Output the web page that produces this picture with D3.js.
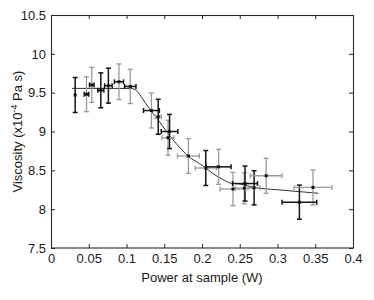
<!DOCTYPE html>
<html><head><meta charset="utf-8">
<script src="https://cdn.jsdelivr.net/npm/d3@7"></script>
<style>
body{margin:0;background:#fff}
svg{display:block}
text{font-family:"Liberation Sans",Arial,Helvetica,sans-serif}
</style>
</head><body>
<svg id="chart" width="374" height="300"></svg>
<script>
// ---- data ----
const powerW    = [0.032, 0.047, 0.054, 0.066, 0.076, 0.090, 0.105, 0.133, 0.142, 0.157, 0.155, 0.182, 0.205, 0.222, 0.241, 0.257, 0.256, 0.269, 0.285, 0.329, 0.347];
const viscosity = [9.47, 9.48, 9.60, 9.53, 9.59, 9.64, 9.58, 9.27, 9.19, 9.00, 8.92, 8.685, 8.53, 8.545, 8.26, 8.33, 8.27, 8.275, 8.43, 8.09, 8.28];
const powerErr  = [0, 0.003, 0.003, 0.004, 0.005, 0.006, 0.0075, 0.0105, 0.004, 0.011, 0.008, 0.0145, 0.014, 0.0165, 0.017, 0.0165, 0.012, 0.008, 0.021, 0.023, 0.025];
const viscErr   = [0.225, 0.225, 0.225, 0.225, 0.225, 0.23, 0.22, 0.225, 0.225, 0.22, 0.225, 0.225, 0.225, 0.225, 0.215, 0.225, 0.2, 0.22, 0.225, 0.22, 0.225];
const vBarTone  = ["d","g","g","d","d","g","g","g","d","d","g","g","d","g","g","d","g","d","g","d","g"];
const hBarTone  = ["d","d","d","d","d","d","d","d","g","d","g","g","g","d","g","d","g","g","g","d","g"];

const fitPower = [0.028, 0.105, 0.110, 0.115, 0.120, 0.127, 0.133, 0.142, 0.155, 0.170, 0.182, 0.197, 0.205, 0.215, 0.228, 0.238, 0.250, 0.270, 0.300, 0.330, 0.354];
const fitVisc  = [9.555, 9.555, 9.545, 9.51, 9.44, 9.34, 9.26, 9.15, 8.97, 8.80, 8.68, 8.585, 8.53, 8.455, 8.38, 8.335, 8.325, 8.278, 8.25, 8.225, 8.205];

const xTicks = [0, 0.05, 0.1, 0.15, 0.2, 0.25, 0.3, 0.35, 0.4];
const xTickLabels = ["0", "0.05", "0.1", "0.15", "0.2", "0.25", "0.3", "0.35", "0.4"];
const yTicks = [7.5, 8, 8.5, 9, 9.5, 10, 10.5];
const yTickLabels = ["7.5", "8", "8.5", "9", "9.5", "10", "10.5"];

// ---- layout ----
const margin = {left: 51, top: 15, right: 21, bottom: 52};
const W = 374, H = 300;
const iw = W - margin.left - margin.right;
const ih = H - margin.top - margin.bottom;

const svg = d3.select("#chart");
const g = svg.append("g").attr("transform", `translate(${margin.left},${margin.top})`);

const x = d3.scaleLinear().domain([0, 0.4]).range([0, iw]);
const y = d3.scaleLinear().domain([7.5, 10.5]).range([ih, 0]);

const axisColor = "#2a2a2a";
const fs = 13;

// axes with inward ticks
const xb = g.append("g").attr("transform", `translate(0,${ih})`)
  .call(d3.axisBottom(x).tickValues(xTicks).tickFormat((d,i)=>xTickLabels[i]).tickSize(-4).tickSizeOuter(0).tickPadding(6));
const xt = g.append("g")
  .call(d3.axisTop(x).tickValues(xTicks).tickFormat("").tickSize(-4).tickSizeOuter(0));
const yl = g.append("g")
  .call(d3.axisLeft(y).tickValues(yTicks).tickFormat((d,i)=>yTickLabels[i]).tickSize(-4).tickSizeOuter(0).tickPadding(5));
const yr = g.append("g").attr("transform", `translate(${iw},0)`)
  .call(d3.axisRight(y).tickValues(yTicks).tickFormat("").tickSize(-4).tickSizeOuter(0));

[xb, xt, yl, yr].forEach(a => {
  a.select(".domain").remove();
  a.selectAll(".tick line").attr("stroke", axisColor);
  a.selectAll(".tick text").attr("fill", "#1a1a1a").style("font-size", fs + "px").style("font-family", '"Liberation Sans",Arial,sans-serif');
});

g.append("rect").attr("x", 0.5).attr("y", 0.5).attr("width", iw).attr("height", ih - 0.5)
  .attr("fill", "none").attr("stroke", axisColor).attr("stroke-width", 1.1);

// fit curve
const fit = fitPower.map((p, i) => [p, fitVisc[i]]);
g.append("path").datum(fit)
  .attr("fill", "none").attr("stroke", "#333").attr("stroke-width", 1)
  .attr("d", d3.line().x(d => x(d[0])).y(d => y(d[1])).curve(d3.curveMonotoneX));

// error bars
const pts = powerW.map((p, i) => ({p, v: viscosity[i], pe: powerErr[i], ve: viscErr[i], vt: vBarTone[i], ht: hBarTone[i]}));
const tone = t => t === "d" ? "#151515" : "#9a9a9a";
const tw = t => t === "d" ? 1.5 : 1.3;
const cap = 2.5;

const eb = g.append("g");
const order = pts.slice().sort((a, b) => (a.vt === "d") - (b.vt === "d"));
order.forEach(d => {
  const cx = x(d.p);
  const y0 = y(d.v + d.ve), y1 = y(d.v - d.ve);
  const c = tone(d.vt), w = tw(d.vt);
  eb.append("line").attr("x1", cx).attr("x2", cx).attr("y1", y0).attr("y2", y1).attr("stroke", c).attr("stroke-width", w);
  eb.append("line").attr("x1", cx - cap).attr("x2", cx + cap).attr("y1", y0).attr("y2", y0).attr("stroke", c).attr("stroke-width", w);
  eb.append("line").attr("x1", cx - cap).attr("x2", cx + cap).attr("y1", y1).attr("y2", y1).attr("stroke", c).attr("stroke-width", w);
});
pts.forEach(d => {
  if (d.pe <= 0) return;
  const cy = y(d.v);
  const x0 = x(d.p - d.pe), x1 = x(d.p + d.pe);
  const c = tone(d.ht), w = tw(d.ht);
  eb.append("line").attr("x1", x0).attr("x2", x1).attr("y1", cy).attr("y2", cy).attr("stroke", c).attr("stroke-width", w);
  eb.append("line").attr("x1", x0).attr("x2", x0).attr("y1", cy - cap).attr("y2", cy + cap).attr("stroke", c).attr("stroke-width", w);
  eb.append("line").attr("x1", x1).attr("x2", x1).attr("y1", cy - cap).attr("y2", cy + cap).attr("stroke", c).attr("stroke-width", w);
});

// markers
g.append("g").selectAll("rect").data(pts).join("rect")
  .attr("x", d => x(d.p) - 1.5).attr("y", d => y(d.v) - 1.5)
  .attr("width", 3).attr("height", 3).attr("fill", "#111");

// axis titles
svg.append("text").attr("x", margin.left + iw / 2).attr("y", 282)
  .attr("text-anchor", "middle").attr("fill", "#1a1a1a").style("font-size", fs + "px")
  .text("Power at sample (W)");

const yt = svg.append("text").attr("transform", `translate(22,${margin.top + ih / 2}) rotate(-90)`)
  .attr("text-anchor", "middle").attr("fill", "#1a1a1a").style("font-size", fs + "px");
yt.append("tspan").text("Viscosity (x10");
yt.append("tspan").attr("dy", -5).style("font-size", "9px").text("-4");
yt.append("tspan").attr("dy", 5).text(" Pa s)");
</script>
</body></html>
